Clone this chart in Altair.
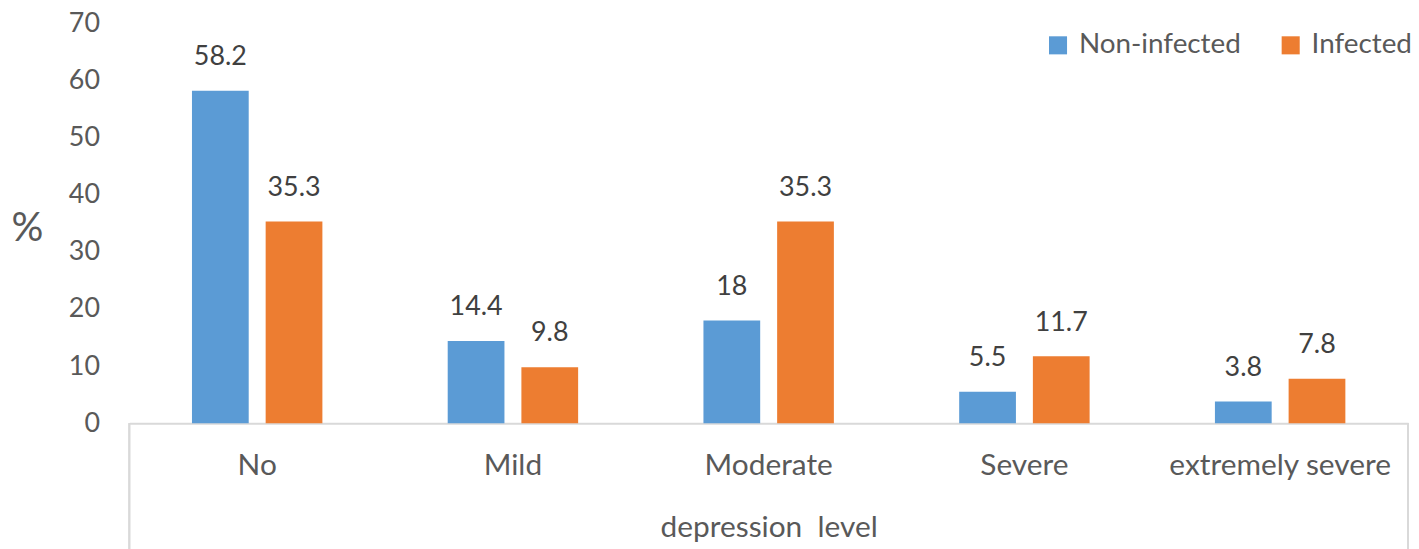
import altair as alt
import pandas as pd

categories = ["No", "Mild", "Moderate", "Severe", "extremely severe"]
series_names = ["Non-infected", "Infected"]
non_infected = [58.2, 14.4, 18, 5.5, 3.8]
infected = [35.3, 9.8, 35.3, 11.7, 7.8]
y_ticks = [0, 10, 20, 30, 40, 50, 60, 70]
colors = ["#5B9BD5", "#ED7D31"]

rows = []
for i, c in enumerate(categories):
    rows.append({"level": c, "series": series_names[0], "value": non_infected[i], "label": f"{non_infected[i]:g}"})
    rows.append({"level": c, "series": series_names[1], "value": infected[i], "label": f"{infected[i]:g}"})
df = pd.DataFrame(rows)

FONT = "Lato"
W, H = 1286, 402

x_enc = alt.X(
    "level:N",
    sort=categories,
    scale=alt.Scale(paddingInner=0.49, paddingOuter=0.245),
    axis=alt.Axis(
        title="depression\u00a0\u00a0level",
        labelAngle=0,
        labelFontSize=30,
        labelFont=FONT,
        labelColor="#595959",
        labelPadding=28,
        labelLimit=500,
        ticks=False,
        domain=True,
        domainColor="#D9D9D9",
        domainWidth=2,
        titleFont=FONT,
        titleFontSize=30,
        titleFontWeight="normal",
        titleColor="#595959",
        titlePadding=32,
    ),
)
xoff = alt.XOffset("series:N", sort=series_names, scale=alt.Scale(paddingInner=0.23, paddingOuter=0))
y_enc = alt.Y(
    "value:Q",
    scale=alt.Scale(domain=[0, 70], nice=False),
    axis=alt.Axis(
        values=y_ticks,
        title="%",
        titleAngle=0,
        titleX=-103,
        titleY=206,
        titleAlign="center",
        titleBaseline="middle",
        titleFont=FONT,
        titleFontSize=40,
        titleFontWeight="normal",
        titleColor="#595959",
        labelFont=FONT,
        labelFontSize=27,
        labelColor="#595959",
        labelPadding=30,
        ticks=False,
        domain=False,
        grid=False,
    ),
)

bars = alt.Chart(df).mark_bar().encode(
    x=x_enc,
    xOffset=xoff,
    y=y_enc,
    color=alt.Color(
        "series:N",
        sort=series_names,
        scale=alt.Scale(domain=series_names, range=colors),
        legend=alt.Legend(
            title=None,
            orient="none",
            legendX=920,
            legendY=8,
            direction="horizontal",
            symbolType="square",
            symbolSize=330,
            symbolStrokeWidth=0,
            labelFont=FONT,
            labelFontSize=28,
            labelColor="#595959",
            labelOffset=7,
            labelLimit=500,
            columnPadding=36,
        ),
    ),
)

texts = alt.Chart(df).mark_text(
    baseline="bottom", dy=-20, fontSize=27, font=FONT, color="#404040"
).encode(
    x=alt.X("level:N", sort=categories),
    xOffset=alt.XOffset("series:N", sort=series_names),
    y="value:Q",
    text="label:N",
)

edges = pd.DataFrame({"edge": ["left", "right"], "px": [0, W]})
left_rule = alt.Chart(edges).mark_rule(color="#D9D9D9", strokeWidth=2).encode(
    x=alt.value(0), y=alt.value(H), y2=alt.value(H + 130)
)
right_rule = alt.Chart(edges).mark_rule(color="#D9D9D9", strokeWidth=2).encode(
    x=alt.value(W), y=alt.value(H), y2=alt.value(H + 130)
)

chart = (
    alt.layer(bars, texts, left_rule, right_rule)
    .properties(
        width=W,
        height=H,
        autosize=alt.AutoSizeParams(type="none"),
        padding={"left": 122, "top": 14, "right": 3, "bottom": 125},
    )
    .configure_view(stroke=None)
)

chart.save("out.html", embed_options={"renderer": "svg", "actions": False})
